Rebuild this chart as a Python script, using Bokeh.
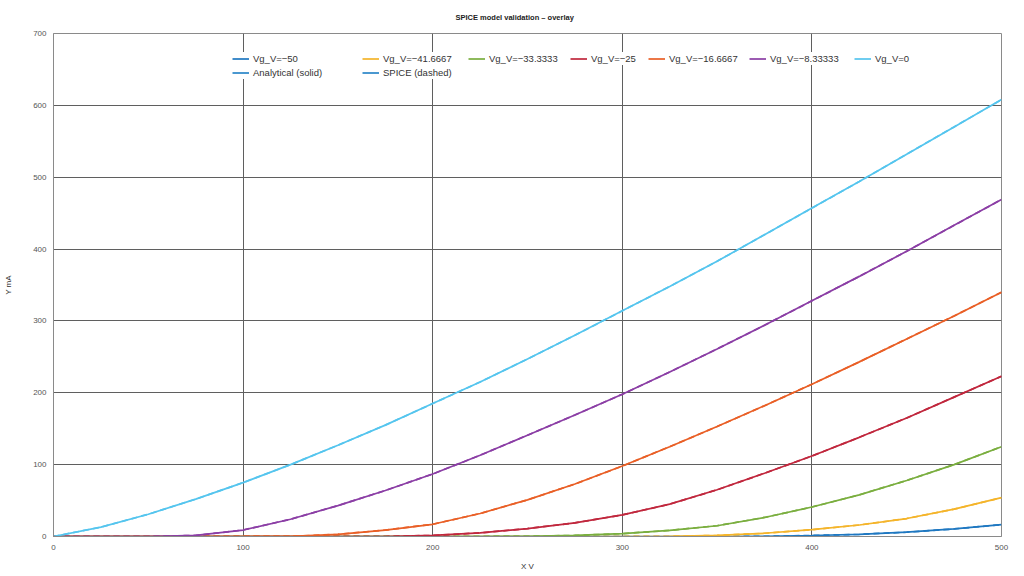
from bokeh.plotting import figure
from bokeh.models import Legend, LegendItem, SingleIntervalTicker, Range1d
from bokeh.embed import file_html
from bokeh.resources import INLINE

# ---- data ----
plate_v = [0, 25, 50, 75, 100, 125, 150, 175, 200, 225, 250, 275, 300,
           325, 350, 375, 400, 425, 450, 475, 500]

grid_labels = ["Vg_V=\u221250", "Vg_V=\u221241.6667", "Vg_V=\u221233.3333",
               "Vg_V=\u221225", "Vg_V=\u221216.6667", "Vg_V=\u22128.33333", "Vg_V=0"]
method_labels = ["Analytical (solid)", "SPICE (dashed)"]

ip_m50 = [0, 0, 0, 0, 0, 0, 0, 0, 0, 0, 0, 0, 0,
          0, 0, 0.2, 1.4, 3, 6, 10.5, 16.5]
ip_m41 = [0, 0, 0, 0, 0, 0, 0, 0, 0, 0, 0, 0, 0,
          0.3, 1.5, 4.5, 9.5, 16, 25, 38, 54]
ip_m33 = [0, 0, 0, 0, 0, 0, 0, 0, 0, 0, 0.3, 1.5, 4,
          8.5, 15, 26.5, 41, 58, 78, 100, 125]
ip_m25 = [0, 0, 0, 0, 0, 0, 0, 0, 1.5, 5, 11, 19, 30,
          45, 65, 88, 112, 138, 165, 194, 223]
ip_m16 = [0, 0, 0, 0, 0, 0.3, 3, 9, 17, 32, 51, 73, 98,
          125, 153, 182, 212, 243, 275, 307, 340]
ip_m8 = [0, 0, 0, 1.5, 9, 24, 43, 64, 87, 113, 141, 169, 198,
         229, 261, 294, 328, 362, 397, 433, 469]
ip_0 = [0, 13, 31, 52, 75, 100, 127, 155, 185, 215, 247, 280, 314,
        348, 383, 420, 457, 494, 532, 570, 608]

series = [ip_m50, ip_m41, ip_m33, ip_m25, ip_m16, ip_m8, ip_0]
colors = ["#1f78c1", "#f4b42a", "#7aae3f", "#c0273d", "#e95f26", "#8b3ea5", "#55c5ee"]
method_color = "#2a86c8"

FONT = "Liberation Sans"

W, H = 1024, 576
FL, FT, FR, FB = 53, 33, 23, 40          # frame borders (px)
frame_h = H - FT - FB

p = figure(width=W, height=H, output_backend="svg", toolbar_location=None,
           x_range=Range1d(0, 500), y_range=Range1d(0, 700),
           min_border_left=FL, min_border_right=FR, min_border_top=FT,
           min_border_bottom=FB, title="SPICE model validation \u2013 overlay")

p.title.text_font = FONT
p.title.text_font_size = "7.5px"
p.title.text_font_style = "bold"
p.title.align = "left"
p.title.offset = 402
p.title.standoff = 19
p.title.vertical_align = "top"
p.title.text_color = "#222222"

curve_renderers = []
for vals, col in zip(series, colors):
    r = p.line(plate_v, vals, line_color=col, line_width=1.7)
    p.line(plate_v, vals, line_color=col, line_width=1.7, line_dash="6 4")
    curve_renderers.append(r)

nan = float("nan")
method_renderers = [p.line([nan], [nan], line_color=method_color, line_width=1.7)
                    for _ in method_labels]

# legend columns laid out like the reference (glyph left edge, px)
col_starts = [236, 366, 472, 574, 652, 753, 858]
PAD = 4
ROW = 13
TOP_GAP = 11
for i, (lab, r, xs) in enumerate(zip(grid_labels, curve_renderers, col_starts)):
    its = [LegendItem(label=lab, renderers=[r])]
    if i < len(method_labels):
        its.append(LegendItem(label=method_labels[i], renderers=[method_renderers[i]]))
    n = len(its)
    h = 2 * PAD + n * ROW + (n - 1) * 1
    lg = Legend(items=its, location=(xs - PAD - FL, frame_h - TOP_GAP - h),
                orientation="vertical")
    lg.border_line_color = None
    lg.background_fill_color = "white"
    lg.background_fill_alpha = 1.0
    lg.label_text_font = FONT
    lg.label_text_font_size = "9.5px"
    lg.label_text_color = "#333333"
    lg.glyph_width = 17
    lg.glyph_height = ROW
    lg.label_height = ROW
    lg.label_standoff = 4
    lg.spacing = 1
    lg.padding = PAD
    lg.margin = 0
    p.add_layout(lg)

ticker_x = SingleIntervalTicker(interval=100, num_minor_ticks=0)
ticker_y = SingleIntervalTicker(interval=100, num_minor_ticks=0)
p.xaxis.ticker = ticker_x
p.yaxis.ticker = ticker_y
p.xgrid.ticker = ticker_x
p.ygrid.ticker = ticker_y
for g in (p.xgrid, p.ygrid):
    g.grid_line_color = "#5f5f5f"
    g.grid_line_width = 1
    g.grid_line_alpha = 1.0

p.xaxis.axis_label = "X V"
p.yaxis.axis_label = "Y mA"
for ax in (p.xaxis, p.yaxis):
    ax.axis_label_text_font = FONT
    ax.axis_label_text_font_size = "8px"
    ax.axis_label_text_font_style = "normal"
    ax.axis_label_text_color = "#333333"
    ax.major_label_text_font = FONT
    ax.major_label_text_font_size = "8px"
    ax.major_label_text_color = "#555555"
    ax.major_tick_line_color = None
    ax.major_tick_out = 0
    ax.major_tick_in = 0
    ax.minor_tick_line_color = None
    ax.minor_tick_out = 0
    ax.axis_line_color = "#8a8a8a"
p.xaxis.major_label_standoff = 8
p.xaxis.axis_label_standoff = 9
p.yaxis.major_label_standoff = 7
p.yaxis.axis_label_standoff = 17

p.outline_line_color = "#8a8a8a"
p.outline_line_alpha = 1.0
p.background_fill_color = "white"
p.border_fill_color = "white"

open("out.html", "w").write(file_html(p, INLINE))
